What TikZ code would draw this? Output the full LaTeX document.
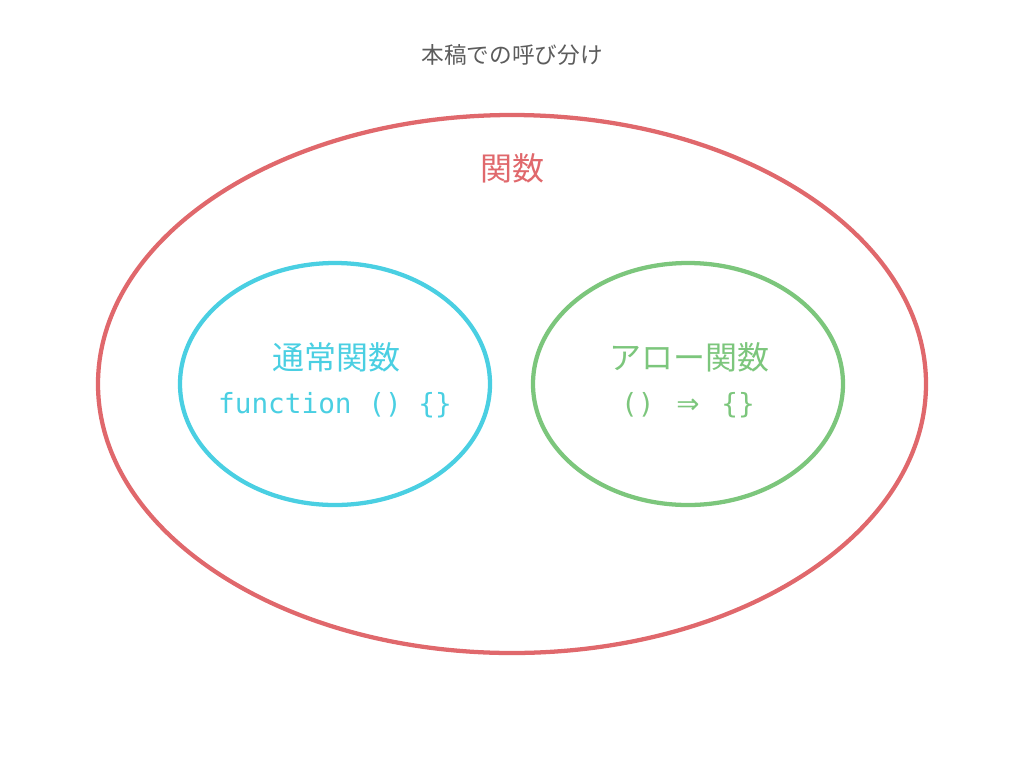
\documentclass[tikz,border=0pt]{standalone}
\usepackage{fontspec}
\setmonofont{DejaVu Sans Mono}
\newfontfamily\jpfont{Noto Sans CJK JP}
\newfontfamily\symfont{DejaVu Sans}
\usetikzlibrary{positioning, shapes.geometric}
\definecolor{set_red}{HTML}{E0686C}
\definecolor{set_cyan}{HTML}{4ACFE2}
\definecolor{set_green}{HTML}{7CC67C}
\definecolor{title_gray}{HTML}{5C5C5C}
\newcommand{\arrowsym}{\makebox[1.204em]{\symfont ⇒}}

\begin{document}
\begin{tikzpicture}
    [
        x=0.75pt, y=-0.75pt,
        set_node/.style={ellipse, draw, line width=3.2pt, inner sep=0pt},
        name_text/.style={font=\jpfont\fontsize{24}{28}\selectfont, inner sep=0pt},
        code_text/.style={font=\ttfamily\fontsize{20.8}{24}\selectfont, inner sep=0pt},
    ]
        \useasboundingbox (0,0) rectangle (1024,768) ;
        \node[font=\jpfont\fontsize{17}{20}\selectfont, text=title_gray] (title) at (512,55) {本稿での呼び分け} ;
        \node[set_node, draw=set_red, minimum width=621pt, minimum height=403.5pt] (func_set) at (512,384) {} ;
        \node[set_node, draw=set_cyan, minimum width=232.5pt, minimum height=181.5pt] (normal_set) at (335,384) {} ;
        \node[set_node, draw=set_green, minimum width=232.5pt, minimum height=181.5pt] (arrow_set) at (688,384) {} ;
        \node[name_text, text=set_red] (func_name) at (512,168) {関数} ;
        \node[name_text, text=set_cyan] (normal_name) at (336,357) {通常関数} ;
        \node[code_text, text=set_cyan] (normal_code) at (335,405) {function () \{\}} ;
        \node[name_text, text=set_green] (arrow_name) at (689,357) {アロー関数} ;
        \node[code_text, text=set_green] (arrow_code) at (688,405) {() \arrowsym{} \{\}} ;
    \end{tikzpicture}
\end{document}
